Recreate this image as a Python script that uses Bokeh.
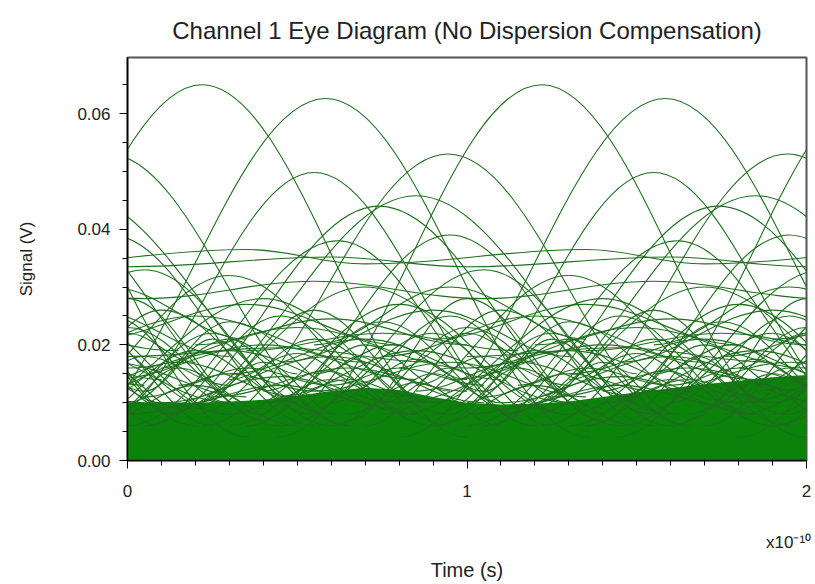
from bokeh.plotting import figure
from bokeh.models import Range1d, FixedTicker, PrintfTickFormatter, LinearAxis
from bokeh.embed import file_html
from bokeh.resources import INLINE

# Time in units of 1e-10 s, signal in V
PERIOD = 1.0  # the eye pattern repeats every 1e-10 s

# Each trace is a pulse: left trough -> peak -> right trough
left_t = [-0.56, -0.20, 0.22, -0.10, 0.10, 0.05, -0.30, 0.00, 0.35, 0.45, 0.10, 0.30, -0.20, 0.00, 0.05, 0.00, -0.25,
          -0.30, -0.10, 0.05, 0.20, 0.35, 0.50, -0.20, 0.10, 0.40, -0.15, 0.25, 0.55, -0.05, 0.30, 0.00, -0.25,
          0.45, 0.15, 0.60, -0.35, 0.65, 0.20, -0.10, 0.55, 0.05, 0.45, 0.70, 0.10,
          -0.10, 0.30, 0.60, 0.00,
          -0.05, 0.20, 0.50, 0.75, 0.05, 0.40, 0.65, -0.15, 0.30, 0.55, 0.10, 0.80, 0.00, 0.35, 0.20, 0.60, -0.10, 0.45]
left_v = [0.004, 0.004, 0.006, 0.006, 0.008, 0.006, 0.034, 0.0335, 0.006, 0.006, 0.008, 0.008, 0.008, 0.010, 0.028, 0.006, 0.008,
          0.006, 0.008, 0.006, 0.008, 0.006, 0.008, 0.010, 0.010, 0.010, 0.012, 0.011, 0.012, 0.014, 0.015, 0.016, 0.018,
          0.017, 0.013, 0.013, 0.008, 0.007, 0.020, 0.021, 0.020, 0.012, 0.011, 0.009, 0.009,
          0.006, 0.006, 0.006, 0.008,
          0.008, 0.009, 0.009, 0.010, 0.011, 0.012, 0.012, 0.013, 0.014, 0.015, 0.016, 0.016, 0.018, 0.019, 0.010, 0.010, 0.010, 0.011]
peak_t = [0.22, 0.584, 0.944, 0.55, 0.85, 0.74, 0.35, 0.60, 0.95, 1.05, 0.70, 0.80, 0.40, 0.30, 0.55, 0.62, 0.30,
          0.10, 0.25, 0.45, 0.55, 0.75, 0.90, 0.30, 0.60, 0.85, 0.15, 0.65, 0.95, 0.40, 0.70, 0.50, 0.20,
          0.90, 0.35, 0.80, 0.00, 1.00, 0.60, 0.35, 0.95, 0.25, 0.70, 0.90, 0.45,
          0.20, 0.60, 0.85, 0.45,
          0.15, 0.40, 0.68, 0.95, 0.30, 0.58, 0.85, 0.05, 0.50, 0.78, 0.30, 1.00, 0.45, 0.75, 0.55, 0.95, 0.20, 0.65]
peak_v = [0.065, 0.0626, 0.053, 0.0498, 0.0458, 0.044, 0.0365, 0.0352, 0.039, 0.033, 0.030, 0.027, 0.028, 0.024, 0.031, 0.038, 0.032,
          0.026, 0.022, 0.025, 0.021, 0.024, 0.022, 0.019, 0.018, 0.019, 0.017, 0.016, 0.017, 0.020, 0.021, 0.023, 0.025,
          0.026, 0.016, 0.016, 0.023, 0.028, 0.0245, 0.027, 0.030, 0.021, 0.020, 0.015, 0.013,
          0.013, 0.014, 0.0135, 0.0145,
          0.016, 0.017, 0.018, 0.016, 0.015, 0.0155, 0.0175, 0.018, 0.0185, 0.020, 0.021, 0.022, 0.0195, 0.022, 0.026, 0.025, 0.019, 0.014]
right_t = [1.00, 1.36, 1.66, 1.20, 1.60, 1.45, 0.70, 1.00, 1.55, 1.60, 1.30, 1.30, 0.95, 0.70, 1.05, 1.20, 0.85,
           0.55, 0.65, 0.85, 0.95, 1.15, 1.25, 0.80, 1.05, 1.30, 0.50, 1.00, 1.35, 0.85, 1.10, 1.00, 0.70,
           1.30, 0.60, 1.05, 0.40, 1.40, 1.00, 0.80, 1.35, 0.50, 0.95, 1.10, 0.80,
           0.50, 0.90, 1.10, 0.85,
           0.40, 0.62, 0.88, 1.15, 0.55, 0.80, 1.05, 0.30, 0.70, 1.00, 0.50, 1.20, 0.90, 1.15, 0.90, 1.30, 0.50, 0.85]
right_v = [0.004, 0.004, 0.006, 0.006, 0.008, 0.006, 0.034, 0.0335, 0.006, 0.006, 0.008, 0.008, 0.008, 0.010, 0.028, 0.006, 0.008,
           0.008, 0.006, 0.008, 0.006, 0.008, 0.006, 0.010, 0.010, 0.010, 0.011, 0.012, 0.011, 0.014, 0.014, 0.016, 0.017,
           0.018, 0.013, 0.013, 0.008, 0.007, 0.020, 0.020, 0.021, 0.010, 0.012, 0.010, 0.009,
           0.006, 0.006, 0.006, 0.008,
           0.009, 0.008, 0.010, 0.009, 0.012, 0.011, 0.012, 0.013, 0.013, 0.014, 0.015, 0.017, 0.017, 0.019, 0.010, 0.010, 0.010, 0.011]

# Upper edge of the saturated band of low-level traces
band_t = [0.0, 0.1, 0.2, 0.3, 0.4, 0.5, 0.6, 0.7, 0.8, 0.9, 1.0, 1.1, 1.2, 1.3, 1.4, 1.5, 1.6, 1.7, 1.8, 1.9, 2.0]
band_top = [0.0100, 0.0101, 0.0100, 0.0102, 0.0105, 0.0112, 0.0120, 0.0126, 0.0122, 0.0110, 0.0100,
            0.0097, 0.0098, 0.0102, 0.0110, 0.0118, 0.0125, 0.0132, 0.0138, 0.0144, 0.0148]

x_ticks = [0, 1, 2]
x_tick_labels = ["0", "1", "2"]
y_ticks = [0.00, 0.02, 0.04, 0.06]
x_scale_pos = 1.947
x_scale_text = "x10\u207b\u00b9\u2070"

FONT = "Liberation Sans"
TEXT = "#222222"
LINE = "#1d6e1d"
BAND = "#0b830b"

p = figure(width=815, height=584, output_backend="svg", toolbar_location=None,
           x_range=Range1d(0, 2), y_range=Range1d(0, 0.0697),
           min_border_left=127, min_border_right=9, min_border_top=57, min_border_bottom=124,
           background_fill_color="white", border_fill_color="white")
p.grid.visible = False
p.outline_line_color = "#555555"
p.outline_line_width = 2

p.title.text = "Channel 1 Eye Diagram (No Dispersion Compensation)"
p.title.align = "center"
p.title.text_font = FONT
p.title.text_font_size = "24px"
p.title.text_font_style = "normal"
p.title.text_color = TEXT
p.title.standoff = 27

# saturated band
p.varea(x=band_t, y1=[0] * len(band_t), y2=band_top, fill_color=BAND, fill_alpha=1.0)

# cosine-like pulse segments drawn as cubic Beziers
A = 0.3642
seg = {k: [] for k in ("x0", "y0", "x1", "y1", "cx0", "cy0", "cx1", "cy1")}
for k in (-1, 0, 1, 2):
    off = k * PERIOD
    for i in range(len(peak_t)):
        for ta, va, tb, vb in ((left_t[i], left_v[i], peak_t[i], peak_v[i]),
                               (peak_t[i], peak_v[i], right_t[i], right_v[i])):
            ta += off
            tb += off
            w = tb - ta
            seg["x0"].append(ta); seg["y0"].append(va)
            seg["x1"].append(tb); seg["y1"].append(vb)
            seg["cx0"].append(ta + A * w); seg["cy0"].append(va)
            seg["cx1"].append(tb - A * w); seg["cy1"].append(vb)

p.bezier(x0=seg["x0"], y0=seg["y0"], x1=seg["x1"], y1=seg["y1"],
         cx0=seg["cx0"], cy0=seg["cy0"], cx1=seg["cx1"], cy1=seg["cy1"],
         line_color=LINE, line_width=1.1)

# axes
xa = p.xaxis[0]
xa.ticker = FixedTicker(ticks=x_ticks, minor_ticks=[i / 10 for i in range(21)])
xa.major_label_overrides = {t: s for t, s in zip(x_ticks, x_tick_labels)}
xa.major_label_standoff = 16
ya = p.yaxis[0]
ya.ticker = FixedTicker(ticks=y_ticks, minor_ticks=[0.005 * i for i in range(14)])
ya.formatter = PrintfTickFormatter(format="%.2f")
ya.axis_label = "Signal (V)"
ya.axis_label_standoff = 38
ya.major_label_standoff = 9
for ax in (xa, ya):
    ax.axis_line_color = "black"
    ax.axis_line_width = 1.5
    ax.major_tick_line_color = "black"
    ax.minor_tick_line_color = "black"
    ax.major_tick_out = 8
    ax.major_tick_in = 0
    ax.minor_tick_out = 5
    ax.minor_tick_in = 0
    ax.major_label_text_font = FONT
    ax.major_label_text_font_size = "17px"
    ax.major_label_text_color = TEXT
    ax.axis_label_text_font = FONT
    ax.axis_label_text_font_size = "17px"
    ax.axis_label_text_font_style = "normal"
    ax.axis_label_text_color = TEXT

# second (label-only) axis carrying the exponent and the axis title
xs = LinearAxis(ticker=FixedTicker(ticks=[x_scale_pos]),
                major_label_overrides={x_scale_pos: x_scale_text},
                axis_label="Time (s)")
xs.axis_line_color = None
xs.major_tick_line_color = None
xs.minor_tick_line_color = None
xs.major_tick_out = 0
xs.major_label_standoff = 33
xs.major_label_text_font = FONT
xs.major_label_text_font_size = "17px"
xs.major_label_text_color = TEXT
xs.axis_label_standoff = 4
xs.axis_label_text_font = FONT
xs.axis_label_text_font_size = "20px"
xs.axis_label_text_font_style = "normal"
xs.axis_label_text_color = TEXT
p.add_layout(xs, "below")

open("out.html", "w").write(file_html(p, INLINE))
